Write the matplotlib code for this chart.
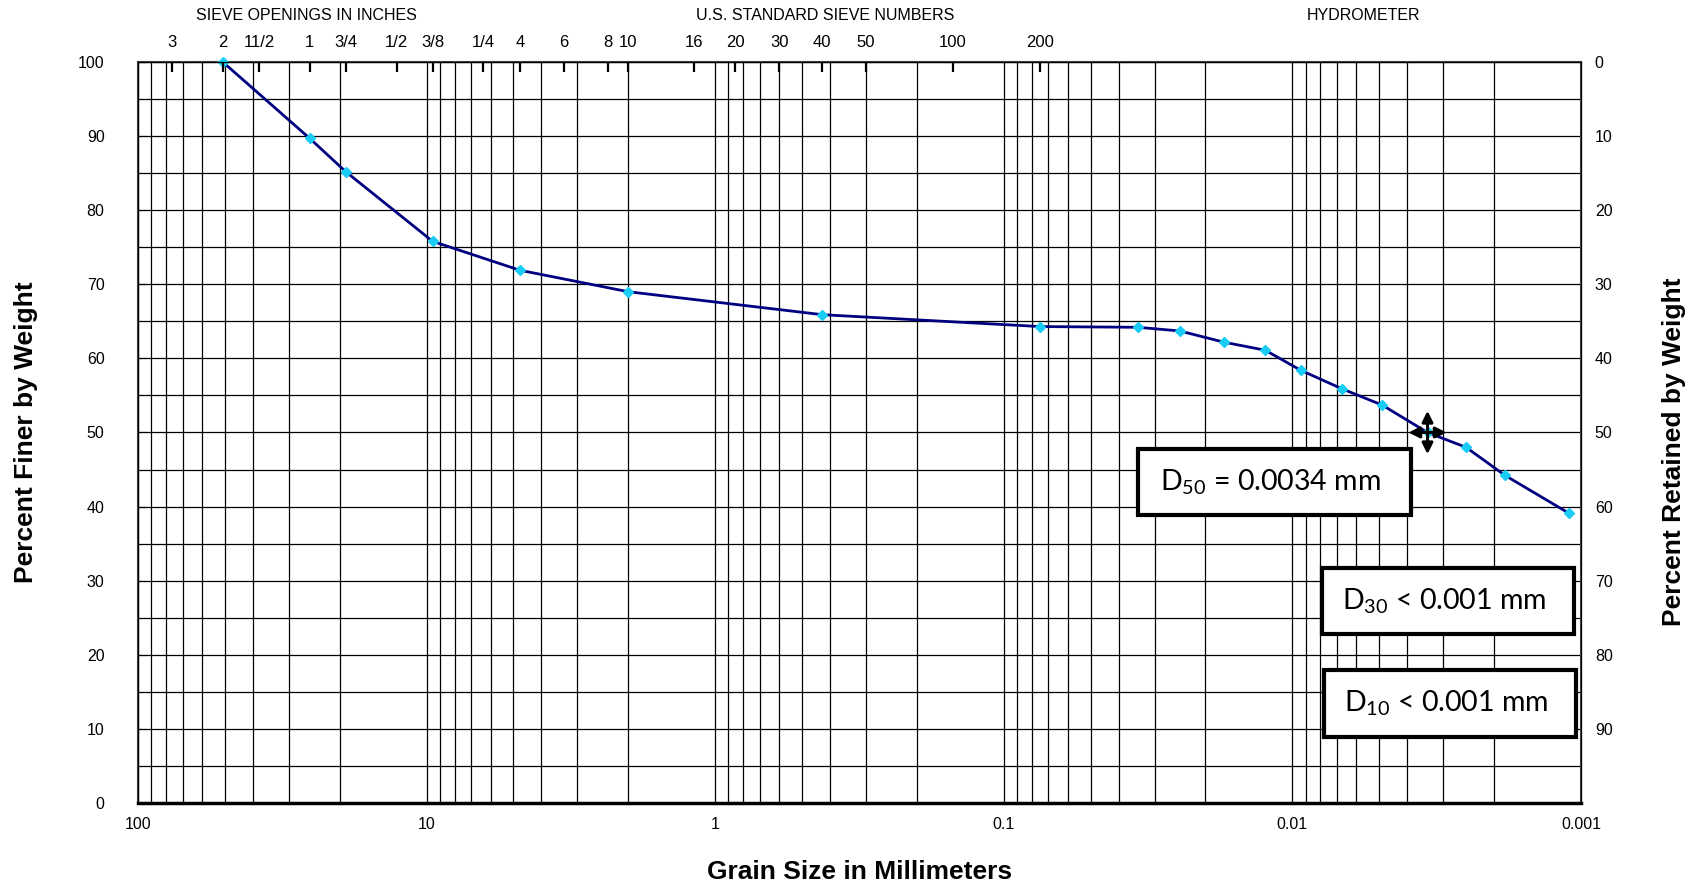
import matplotlib.pyplot as plt
from matplotlib.ticker import FixedLocator, NullLocator, NullFormatter, LogLocator
from matplotlib.patches import Rectangle

plt.rcParams['font.family'] = ['Liberation Sans', 'DejaVu Sans']
plt.rcParams['mathtext.fontset'] = 'custom'
plt.rcParams['mathtext.rm'] = 'Lato'

# grain size curve (sieve + hydrometer)
size_mm = [50.8, 25.4, 19.05, 9.525, 4.75, 2.0, 0.425, 0.075,
           0.0343, 0.0245, 0.0173, 0.0124, 0.00935, 0.00673, 0.00488,
           0.0034, 0.0025, 0.00183, 0.0011]
pct_finer = [100, 89.7, 85.2, 75.8, 71.9, 69.0, 65.9, 64.3,
             64.2, 63.7, 62.2, 61.1, 58.4, 55.9, 53.7,
             50.0, 48.0, 44.2, 39.1]

# top scale: sieve openings (inches) and US standard sieve numbers
sieve_mm = [76.2, 50.8, 38.1, 25.4, 19.05, 12.7, 9.525, 6.35,
            4.75, 3.35, 2.36, 2.0, 1.18, 0.85, 0.6, 0.425, 0.3, 0.15, 0.075]
sieve_lbl = ['3', '2', '11/2', '1', '3/4', '1/2', '3/8', '1/4',
             '4', '6', '8', '10', '16', '20', '30', '40', '50', '100', '200']

x_major = [100, 10, 1, 0.1, 0.01, 0.001]
x_major_lbl = ['100', '10', '1', '0.1', '0.01', '0.001']
finer_ticks = list(range(0, 101, 10))
retained_ticks = list(range(0, 91, 10))

d_labels = ['D$_{50}$ = 0.0034 mm', 'D$_{30}$ < 0.001 mm', 'D$_{10}$ < 0.001 mm']

W, H = 1703, 885
fig = plt.figure(figsize=(W / 100, H / 100), dpi=100)
ax = fig.add_axes([0.081, 0.0927, 0.8473, 0.8372])
ax.set_xscale('log')
ax.set_xlim(100, 0.001)
ax.set_ylim(0, 100)
ax.xaxis.set_major_locator(FixedLocator(x_major))
ax.set_xticklabels(x_major_lbl)
ax.xaxis.set_minor_locator(LogLocator(base=10, subs=range(2, 10), numticks=20))
ax.xaxis.set_minor_formatter(NullFormatter())
ax.yaxis.set_major_locator(FixedLocator(finer_ticks))
ax.yaxis.set_minor_locator(FixedLocator(list(range(5, 100, 10))))
ax.grid(which='both', axis='both', color='black', lw=0.9)
ax.tick_params(axis='x', which='both', length=0, labelsize=11.5, pad=10)
ax.tick_params(axis='y', which='major', direction='in', length=6, labelsize=11.5, pad=24)
ax.tick_params(axis='y', which='minor', length=0)
for s in ax.spines.values():
    s.set_linewidth(1.5)
    s.set_color('#444444')
ax.spines['bottom'].set_color('black')
ax.spines['bottom'].set_linewidth(2.5)

ax.plot(size_mm, pct_finer, color='#000080', lw=2, marker='D', ms=5,
        mfc='#19CCF5', mec='#19CCF5', zorder=5, clip_on=False)

# right axis: percent retained
ax2 = ax.twinx()
ax2.set_ylim(100, 0)
ax2.yaxis.set_major_locator(FixedLocator(retained_ticks))
ax2.tick_params(axis='y', length=0, labelsize=11.5, pad=10)

# top axis: sieve sizes
ax3 = ax.twiny()
ax3.set_xscale('log')
ax3.set_xlim(100, 0.001)
ax3.xaxis.set_major_locator(FixedLocator(sieve_mm))
ax3.xaxis.set_minor_locator(NullLocator())
ax3.set_xticklabels(sieve_lbl)
ax3.tick_params(axis='x', direction='in', length=7, width=1.6, labelsize=12, pad=9)

# axis titles
fig.text(860 / W, 1 - 872 / H, 'Grain Size in Millimeters', ha='center', va='center',
         fontsize=19, fontweight='bold')
fig.text(26 / W, 1 - 432 / H, 'Percent Finer by Weight', ha='center', va='center',
         rotation=90, fontsize=19, fontweight='bold')
fig.text(1674 / W, 1 - 452 / H, 'Percent Retained by Weight', ha='center', va='center',
         rotation=90, fontsize=19, fontweight='bold')

fig.text(306 / W, 1 - 15 / H, 'SIEVE OPENINGS IN INCHES', ha='center', va='center', fontsize=11.5)
fig.text(825 / W, 1 - 15 / H, 'U.S. STANDARD SIEVE NUMBERS', ha='center', va='center', fontsize=11.5)
fig.text(1363 / W, 1 - 15 / H, 'HYDROMETER', ha='center', va='center', fontsize=11.5)

# D-value boxes
boxes = [(1138, 449, 273, 66), (1322, 568, 252, 66), (1324, 670, 252, 67)]
for (bx, by, bw, bh), lbl in zip(boxes, d_labels):
    fig.patches.append(Rectangle((bx / W, 1 - (by + bh) / H), bw / W, bh / H,
                                 transform=fig.transFigure, facecolor='white',
                                 edgecolor='black', lw=3, zorder=10))
    fig.text((bx + bw / 2 - 4) / W, 1 - (by + bh / 2) / H, lbl, ha='center', va='center',
             fontsize=20.5, family='Lato', zorder=11)

# move cursor seen in the screenshot
cx, cy = 0.0034, 50
ax.annotate('', xy=(cx / 1.19, cy), xytext=(cx * 1.19, cy),
            arrowprops=dict(arrowstyle='<|-|>', color='black', lw=2.2, mutation_scale=16), zorder=8)
ax.annotate('', xy=(cx, cy + 3.3), xytext=(cx, cy - 3.3),
            arrowprops=dict(arrowstyle='<|-|>', color='black', lw=2.2, mutation_scale=16), zorder=8)

fig.savefig('out.png', dpi=100)
